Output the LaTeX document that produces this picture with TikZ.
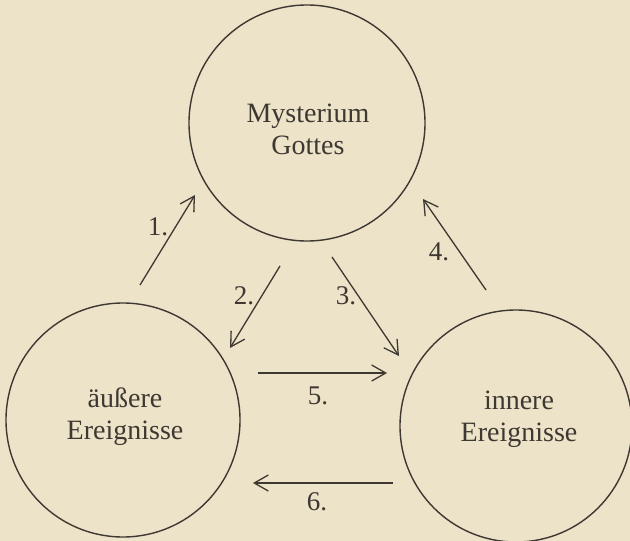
\documentclass[tikz,border=0pt]{standalone}
\usepackage{fontspec}
\setmainfont{Liberation Serif}
\usetikzlibrary{arrows.meta}
\definecolor{paper}{RGB}{237,227,200}
\definecolor{ink}{RGB}{62,56,50}
\begin{document}
\begin{tikzpicture}[x=1pt,y=-1pt,
  blob/.style={circle,draw=ink,line width=1.4pt,inner sep=0pt},
  txt/.style={text=ink,align=center,font=\fontsize{28}{32}\selectfont},
  lbl/.style={text=ink,font=\fontsize{27}{30}\selectfont,inner sep=0pt},
  arr/.style={draw=ink,line width=1.3pt,-{Straight Barb[length=14pt,width=16pt,line width=1.3pt]}}]
\fill[paper] (0,0) rectangle (630,541);
\useasboundingbox (0,0) rectangle (630,541);
% circles
\node[blob,minimum size=236pt] (god) at (307,123) {};
\node[blob,minimum size=234pt] (aus) at (123,420) {};
\node[blob,minimum size=232pt] (inn) at (516,426) {};
\node[txt] (tgod) at (308,129) {Mysterium\\Gottes};
\node[txt] (taus) at (125,417) {äußere\\Ereignisse};
\node[txt] (tinn) at (519,419) {innere\\Ereignisse};
% arrow end points
\coordinate (a1s) at (140,285); \coordinate (a1e) at (195,195);
\coordinate (a2s) at (280,266); \coordinate (a2e) at (230,348);
\coordinate (a3s) at (332,257); \coordinate (a3e) at (399,356);
\coordinate (a4s) at (486,290); \coordinate (a4e) at (423,199);
\coordinate (a5s) at (258,373); \coordinate (a5e) at (387,373);
\coordinate (a6s) at (393,483); \coordinate (a6e) at (253,483);
\draw[arr] (a1s) -- (a1e);
\draw[arr] (a2s) -- (a2e);
\draw[arr] (a3s) -- (a3e);
\draw[arr] (a4s) -- (a4e);
\draw[arr] (a5s) -- (a5e);
\draw[arr] (a6s) -- (a6e);
% labels
\node[lbl] (l1) at (158,227) {1.};
\node[lbl] (l2) at (244,296) {2.};
\node[lbl] (l3) at (346,296) {3.};
\node[lbl] (l4) at (439,252) {4.};
\node[lbl] (l5) at (318,396) {5.};
\node[lbl] (l6) at (317,502) {6.};
\end{tikzpicture}
\end{document}
